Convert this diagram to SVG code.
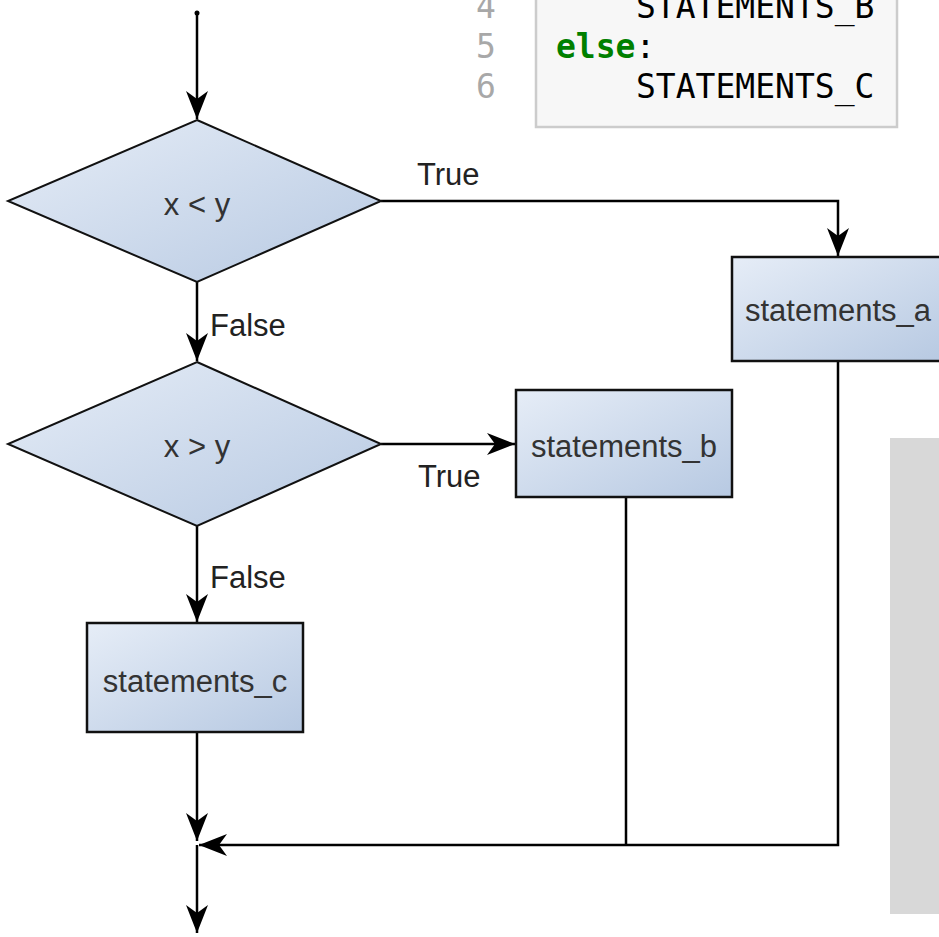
<svg xmlns="http://www.w3.org/2000/svg" width="939" height="937" viewBox="0 0 939 937">
  <style>
    .node { stroke: #111; stroke-width: 2.5; fill: url(#nodeFill); }
    .dia { stroke: #111; stroke-width: 2; fill: url(#nodeFill); }
    .lbl { font-family: "Liberation Sans", Arial, sans-serif; font-size: 31px; fill: #333; text-anchor: middle; }
    .edge-lbl { font-family: "Liberation Sans", Arial, sans-serif; font-size: 31px; fill: #222; }
    .conn { stroke: #000; stroke-width: 2.5; fill: none; }
    .code { font-family: "DejaVu Sans Mono", "Liberation Mono", monospace; font-size: 33px; fill: #000; }
    .ln { font-family: "DejaVu Sans Mono", "Liberation Mono", monospace; font-size: 33px; fill: #a8a8a8; }
  </style>
  <defs>
    <linearGradient id="nodeFill" x1="0" y1="0" x2="1" y2="1">
      <stop offset="0" stop-color="#e6edf7"/>
      <stop offset="1" stop-color="#b7c9e2"/>
    </linearGradient>
    <marker id="arr" markerUnits="userSpaceOnUse" markerWidth="32" markerHeight="26" viewBox="-30 -13 32 26" refX="0" refY="0" orient="auto">
      <path d="M0,0 L-28,-11 L-20,0 L-28,11 Z" fill="#000"/>
    </marker>
  </defs>
  <rect width="939" height="937" fill="#ffffff"/>

  <g id="code">
    <rect x="536" y="-5" width="361" height="132" fill="#f7f7f7" stroke="#cccccc" stroke-width="2.5"/>
    <text class="ln" x="476" y="18">4</text>
    <text class="ln" x="476" y="58">5</text>
    <text class="ln" x="476" y="98">6</text>
    <text class="code" x="636" y="18">STATEMENTS_B</text>
    <text class="code" x="556" y="58"><tspan fill="#008000" font-weight="bold">else</tspan>:</text>
    <text class="code" x="636" y="98">STATEMENTS_C</text>
  </g>

  <rect id="gray-panel" x="890" y="438" width="60" height="476" fill="#d8d8d8"/>

  <g id="connectors">
    <circle cx="197" cy="13" r="2.5" fill="#000"/>
    <path class="conn" d="M197,13 V119" marker-end="url(#arr)"/>
    <path class="conn" d="M381,201 H838 V256" marker-end="url(#arr)"/>
    <path class="conn" d="M197,282 V361" marker-end="url(#arr)"/>
    <path class="conn" d="M381,444 H515" marker-end="url(#arr)"/>
    <path class="conn" d="M197,526 V622" marker-end="url(#arr)"/>
    <path class="conn" d="M197,732 V841" marker-end="url(#arr)"/>
    <path class="conn" d="M626,497 V845"/>
    <path class="conn" d="M838,361 V845 H199" marker-end="url(#arr)"/>
    <path class="conn" d="M197,845 V933" marker-end="url(#arr)"/>
    <text class="edge-lbl" x="417" y="185">True</text>
    <text class="edge-lbl" x="210" y="336">False</text>
    <text class="edge-lbl" x="418" y="487">True</text>
    <text class="edge-lbl" x="210" y="588">False</text>
  </g>

  <g id="d1">
    <polygon class="dia" points="197,120 381,201 197,282 8,201"/>
    <text class="lbl" x="197" y="215">x &lt; y</text>
  </g>
  <g id="d2">
    <polygon class="dia" points="197,362 381,444 197,526 8,444"/>
    <text class="lbl" x="197" y="457">x &gt; y</text>
  </g>
  <g id="a">
    <rect class="node" x="732" y="257" width="212" height="104"/>
    <text class="lbl" x="838" y="321">statements_a</text>
  </g>
  <g id="b">
    <rect class="node" x="516" y="390" width="216" height="107"/>
    <text class="lbl" x="624" y="457">statements_b</text>
  </g>
  <g id="c">
    <rect class="node" x="87" y="623" width="216" height="109"/>
    <text class="lbl" x="195" y="692">statements_c</text>
  </g>
</svg>
